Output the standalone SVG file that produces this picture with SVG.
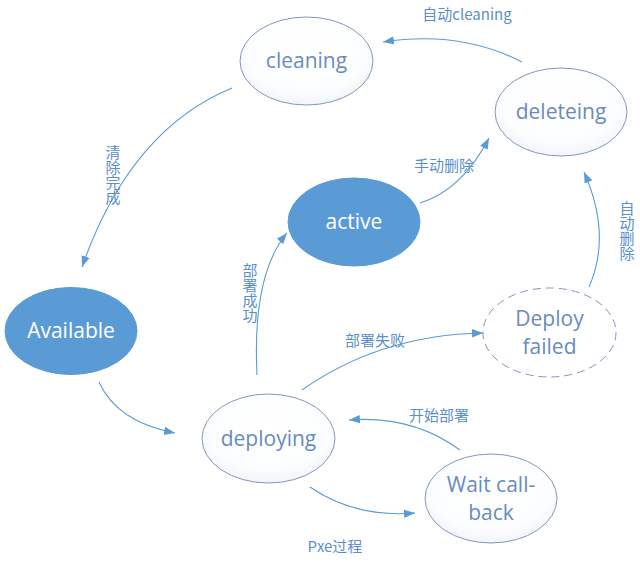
<svg xmlns="http://www.w3.org/2000/svg" width="640" height="565" viewBox="0 0 640 565">
<style>
.bg{fill:#ffffff}
.fill-node{fill:#5B9BD5;stroke:#5B9BD5;stroke-width:1}
.plain-node{fill:url(#g);stroke:#8496BE;stroke-width:1}
.dash-node{fill:#ffffff;stroke:#8496BE;stroke-width:1;stroke-dasharray:8 5}
.nt{font-family:"Open Sans","Noto Sans",sans-serif;font-size:21px;text-anchor:middle}
.nw{fill:#ffffff}
.nb{fill:#6A8BBE}
.edge{fill:none;stroke:#5B9BD5;stroke-width:1.1;marker-end:url(#arr)}
.lbl{font-family:"Noto Sans CJK SC","Open Sans",sans-serif;font-size:15px;fill:#5B8FCB}
.vlbl{font-family:"Noto Sans CJK SC",sans-serif;font-size:15px;fill:#5B8FCB;writing-mode:vertical-rl;text-orientation:upright}
</style>
<defs>
<radialGradient id="g" cx="50%" cy="40%" r="60%">
<stop offset="0" stop-color="#ffffff"/>
<stop offset="0.75" stop-color="#fcfdfe"/>
<stop offset="1" stop-color="#f1f4fa"/>
</radialGradient>
<marker id="arr" markerWidth="12" markerHeight="10" refX="11" refY="5" orient="auto" markerUnits="userSpaceOnUse">
<path d="M0,0.8 L11,5 L0,9.2 z" fill="#5B9BD5"/>
</marker>
</defs>
<rect class="bg" x="0" y="0" width="640" height="565"/>

<g id="connectors">
<path class="edge" d="M522,62 Q460,30 383,42"/>
<path class="edge" d="M232,88 Q130,130 82,267"/>
<path class="edge" d="M99,382 Q117,422 175,433"/>
<path class="edge" d="M257,375 Q252,275 287,233"/>
<path class="edge" d="M420,203 Q462,190 489,138"/>
<path class="edge" d="M589,287 Q612,235 584,172"/>
<path class="edge" d="M302,390 Q380,335 483,333"/>
<path class="edge" d="M460,450 Q412,415 349,420"/>
<path class="edge" d="M310,487 Q355,518 415,513"/>
</g>

<g id="labels">
<text class="lbl" x="467" y="20" text-anchor="middle">自动cleaning</text>
<text class="lbl" x="444" y="171" text-anchor="middle">手动删除</text>
<text class="vlbl" x="113" y="145">清除完成</text>
<text class="vlbl" x="250" y="263">部署成功</text>
<text class="vlbl" x="627" y="201">自动删除</text>
<text class="lbl" x="375" y="346" text-anchor="middle">部署失败</text>
<text class="lbl" x="439" y="421" text-anchor="middle">开始部署</text>
<text class="lbl" x="335" y="552" text-anchor="middle">Pxe过程</text>
</g>

<g id="node-cleaning">
<ellipse class="plain-node" cx="306.5" cy="61" rx="66.5" ry="44"/>
<text class="nt nb" x="306.5" y="68">cleaning</text>
</g>
<g id="node-deleteing">
<ellipse class="plain-node" cx="561" cy="112" rx="66" ry="44"/>
<text class="nt nb" x="561" y="119">deleteing</text>
</g>
<g id="node-active">
<ellipse class="fill-node" cx="354" cy="222" rx="66" ry="44"/>
<text class="nt nw" x="354" y="229">active</text>
</g>
<g id="node-available">
<ellipse class="fill-node" cx="71" cy="331" rx="66" ry="43.5"/>
<text class="nt nw" x="71" y="338">Available</text>
</g>
<g id="node-deploy-failed">
<ellipse class="dash-node" cx="549.5" cy="332.5" rx="66.5" ry="44.5"/>
<text class="nt nb" x="549.5" y="326">Deploy</text>
<text class="nt nb" x="549.5" y="354">failed</text>
</g>
<g id="node-deploying">
<ellipse class="plain-node" cx="268.5" cy="438.5" rx="66.5" ry="44.5"/>
<text class="nt nb" x="268.5" y="446">deploying</text>
</g>
<g id="node-wait-callback">
<ellipse class="plain-node" cx="491" cy="498.5" rx="66" ry="44.5"/>
<text class="nt nb" x="491" y="492">Wait call-</text>
<text class="nt nb" x="491" y="520">back</text>
</g>
</svg>
